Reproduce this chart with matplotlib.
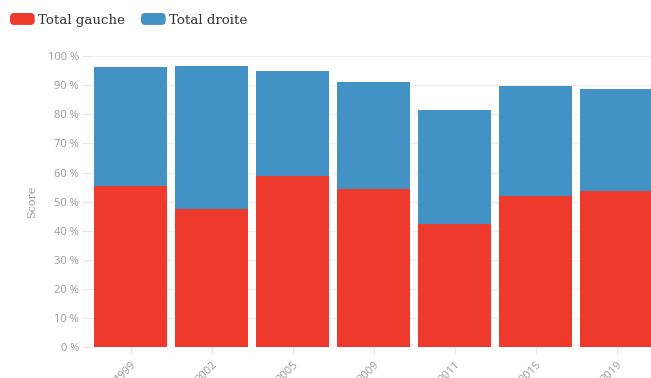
import matplotlib
matplotlib.use("Agg")
import matplotlib.pyplot as plt
from matplotlib.patches import Patch, FancyBboxPatch
from matplotlib.legend_handler import HandlerPatch

years = ["1999", "2002", "2005", "2009", "2011", "2015", "2019"]
gauche = [55.5, 47.5, 58.9, 54.2, 42.2, 52.0, 53.8]
droite = [40.6, 49.1, 36.1, 37.0, 39.3, 37.8, 34.8]
series_names = ["Total gauche", "Total droite"]
yticks = list(range(0, 101, 10))
ytick_labels = [f"{v} %" for v in yticks]

red = "#ee3a2c"
blue = "#4292c6"
W, H = 651, 378
fig = plt.figure(figsize=(W / 100, H / 100), dpi=100)
left = 90 / W
bottom = (H - 347.3) / H
top = (H - 56) / H
width = 567 / W
ax = fig.add_axes([left, bottom, width, top - bottom])

x = list(range(len(years)))
ax.bar(x, gauche, width=0.89, color=red, zorder=3, linewidth=0)
ax.bar(x, droite, bottom=gauche, width=0.89, color=blue, zorder=3, linewidth=0)

ax.set_xlim(-0.5, len(years) - 0.5)
ax.set_ylim(0, 100)
ax.set_yticks(yticks)
ax.set_yticklabels(ytick_labels)
ax.set_xticks(x)
ax.set_xticklabels(years, rotation=45, ha="right", rotation_mode="anchor")
for s in ax.spines.values():
    s.set_visible(False)
ax.grid(axis="y", color="#eeeeee", linewidth=1, zorder=0)
ax.tick_params(axis="y", length=6, color="#e6e6e6", labelcolor="#9a9a9a",
               labelsize=8, pad=2)
ax.tick_params(axis="x", length=5, color="#e6e6e6", labelcolor="#9a9a9a",
               labelsize=8, pad=4)
for lab in ax.get_yticklabels() + ax.get_xticklabels():
    lab.set_family(["Open Sans", "DejaVu Sans"])
ax.set_ylabel("Score", color="#9a9a9a", fontsize=8, family="DejaVu Serif", labelpad=8)


class RoundHandler(HandlerPatch):
    def create_artists(self, legend, orig_handle, xdescent, ydescent, width, height,
                       fontsize, trans):
        p = FancyBboxPatch((-xdescent + 1.5, -ydescent + 1.5), width - 3, height - 3,
                           boxstyle="round,pad=1.5,rounding_size=3",
                           facecolor=orig_handle.get_facecolor(), edgecolor="none",
                           transform=trans)
        return [p]


handles = [Patch(facecolor=red, edgecolor="none"), Patch(facecolor=blue, edgecolor="none")]
leg = fig.legend(handles, series_names, loc="upper left", ncol=2,
                 bbox_to_anchor=(10 / W, 1 - 13 / H), frameon=False,
                 prop={"family": "DejaVu Serif", "size": 9.6},
                 handlelength=1.85, handleheight=1.0, handletextpad=0.25,
                 columnspacing=1.2, borderpad=0, borderaxespad=0,
                 handler_map={Patch: RoundHandler()})
for t in leg.get_texts():
    t.set_color("#333333")

fig.savefig("out.png", dpi=100)
